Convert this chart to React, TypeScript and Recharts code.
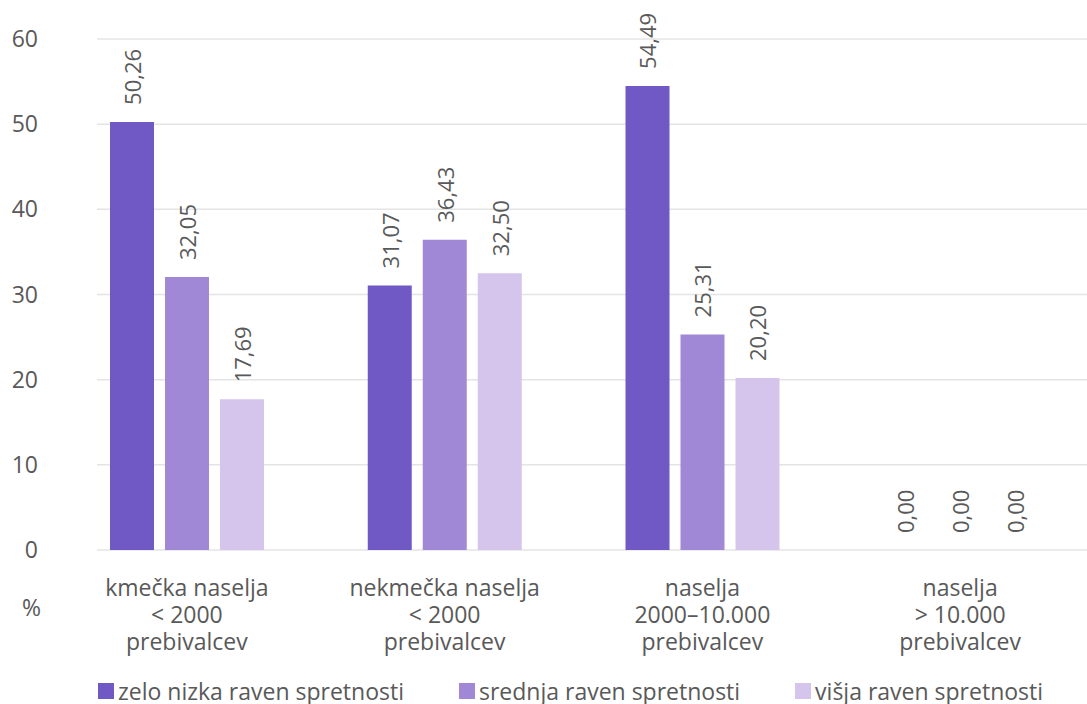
import {
  Bar,
  BarChart,
  CartesianGrid,
  LabelList,
  Legend,
  XAxis,
  YAxis,
} from "recharts";

const categories = [
  "kmečka naselja\n< 2000\nprebivalcev",
  "nekmečka naselja\n< 2000\nprebivalcev",
  "naselja\n2000–10.000\nprebivalcev",
  "naselja\n> 10.000\nprebivalcev",
];
const zeloNizka = [50.26, 31.07, 54.49, 0];
const srednja = [32.05, 36.43, 25.31, 0];
const visja = [17.69, 32.5, 20.2, 0];
const yTicks = [0, 10, 20, 30, 40, 50, 60];

const series = [
  { key: "zelo", name: "zelo nizka raven spretnosti", color: "#7159c5" },
  { key: "srednja", name: "srednja raven spretnosti", color: "#a088d6" },
  { key: "visja", name: "višja raven spretnosti", color: "#d5c5ec" },
];

const data = categories.map((cat, i) => ({
  cat,
  zelo: zeloNizka[i],
  srednja: srednja[i],
  visja: visja[i],
}));

const font = "'Open Sans', 'Noto Sans', sans-serif";
const textColor = "#595959";
const fs = 23;

const fmt = (v: number) => v.toFixed(2).replace(".", ",");

const CategoryTick = (props: any) => {
  const { x, y, payload } = props;
  const lines = String(payload.value).split("\n");
  return (
    <text x={x} y={y} textAnchor="middle" fill={textColor} fontSize={fs} fontFamily={font}>
      {lines.map((line, i) => (
        <tspan key={i} x={x} dy={i === 0 ? 44 : 27}>
          {line}
        </tspan>
      ))}
    </text>
  );
};

const ValueLabel = (props: any) => {
  const { x, y, width, value } = props;
  const cx = x + width / 2;
  const cy = y - 17;
  return (
    <text
      x={cx}
      y={cy}
      transform={`rotate(-90 ${cx} ${cy})`}
      textAnchor="start"
      dominantBaseline="central"
      fill={textColor}
      fontSize={22}
      fontFamily={font}
    >
      {fmt(Number(value))}
    </text>
  );
};

const LegendContent = () => (
  <div
    style={{
      display: "flex",
      paddingLeft: 98,
      paddingTop: 14,
      height: 26,
      lineHeight: "26px",
      alignItems: "center",
      fontFamily: font,
      fontSize: fs,
      color: textColor,
      whiteSpace: "nowrap",
    }}
  >
    {series.map((s) => (
      <div key={s.key} style={{ display: "flex", alignItems: "center", marginRight: 55 }}>
        <span style={{ width: 16, height: 16, background: s.color, marginRight: 4 }} />
        <span>{s.name}</span>
      </div>
    ))}
  </div>
);

export default function App() {
  return (
    <div style={{ position: "absolute", left: 0, top: 0, width: 1087, height: 704, background: "#fff" }}>
      <BarChart
        width={1087}
        height={704}
        data={data}
        margin={{ top: 39, right: -2, left: 0, bottom: 0 }}
        barSize={44}
        barGap={11}
      >
        <CartesianGrid
          vertical={false}
          horizontal={(p: any) => (
            <line
              key={`h-${p.y1}`}
              x1={97}
              y1={p.y1}
              x2={p.x2}
              y2={p.y2}
              stroke="#e4e4e4"
              strokeWidth={1.5}
            />
          )}
        />
        <XAxis
          dataKey="cat"
          height={114}
          axisLine={false}
          tickLine={false}
          tickSize={0}
          tick={<CategoryTick />}
          interval={0}
        />
        <YAxis
          width={58}
          domain={[0, 60]}
          ticks={yTicks}
          axisLine={false}
          tickLine={false}
          tickMargin={14}
          tick={{ fill: textColor, fontSize: fs, fontFamily: font }}
        />
        <Legend verticalAlign="bottom" content={<LegendContent />} />
        {series.map((s) => (
          <Bar
            key={s.key}
            dataKey={s.key}
            name={s.name}
            fill={s.color}
            minPointSize={0.01}
            isAnimationActive={false}
          >
            <LabelList dataKey={s.key} content={<ValueLabel />} />
          </Bar>
        ))}
      </BarChart>
      <div
        style={{
          position: "absolute",
          left: 22,
          top: 591,
          fontFamily: font,
          fontSize: fs,
          color: textColor,
        }}
      >
        %
      </div>
    </div>
  );
}
